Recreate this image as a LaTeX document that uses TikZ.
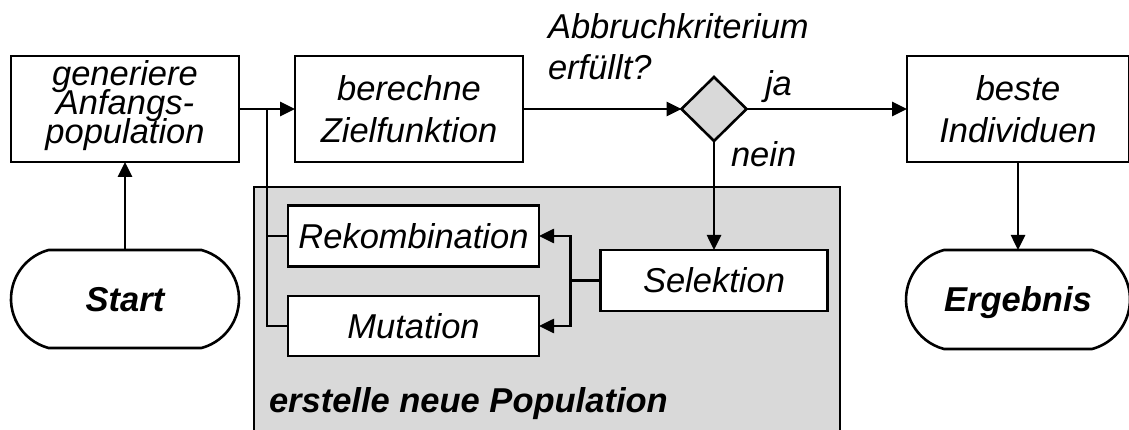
\documentclass[tikz,border=0pt]{standalone}
\usepackage{fontspec}
\setmainfont{Liberation Sans}
\usetikzlibrary{arrows.meta,shapes.geometric,shapes.misc,calc}
\definecolor{panelgrey}{RGB}{217,217,217}
\newcommand\tightls{\lineskiplimit-100pt\relax}
\begin{document}
\begin{tikzpicture}[x=1pt,y=-1pt,
  every node/.style={inner sep=0pt, outer sep=0pt},
  ln/.style={line width=2.6pt},
  arr/.style={ln, -{Triangle[length=15pt,width=14pt]}},
  procbox/.style={draw, ln, fill=white, rectangle, align=center,
    font={\fontsize{34.5}{41.5}\selectfont\tightls\itshape}},
  onebox/.style={procbox, text height=24.7pt, text depth=0pt},
  term/.style={draw, ln, fill=white, rounded rectangle, rounded rectangle arc length=150,
    font={\fontsize{34.5}{41.5}\selectfont\bfseries\itshape}, text height=24.7pt, text depth=0pt},
  lbl/.style={font={\fontsize{34.5}{41}\selectfont\itshape}, align=left},
]
\useasboundingbox (0,0) rectangle (1129,430);
\clip (0,0) rectangle (1129,430);

% grey panel
\node[draw, ln, fill=panelgrey, minimum width=586pt, minimum height=260pt, anchor=north west] (panel) at (254,187) {};

% boxes
\node[procbox, minimum width=228pt, minimum height=106pt, text depth=13.7pt,
  font={\fontsize{34.5}{29}\selectfont\tightls\itshape}] (gen) at (125,109) {generiere\\Anfangs-\\population};
\node[procbox, minimum width=228pt, minimum height=106pt] (ber) at (409,109) {berechne\\Zielfunktion};
\node[procbox, minimum width=222pt, minimum height=106pt] (best) at (1018,109) {beste\\Individuen};
\node[diamond, draw, ln, fill=panelgrey, minimum width=65pt, minimum height=64pt] (dec) at (714,109) {};
\node[term, minimum width=228pt, minimum height=98pt] (start) at (125,299) {Start};
\node[term, minimum width=224pt, minimum height=99pt] (erg) at (1018,299.5) {Ergebnis};
\node[onebox, minimum width=251pt, minimum height=61pt] (rek) at (413.5,236) {Rekombination};
\node[onebox, minimum width=251pt, minimum height=60pt] (mut) at (413.5,326) {Mutation};
\node[onebox, minimum width=227pt, minimum height=61pt] (sel) at (714,280.5) {Selektion};

% labels
\node[lbl, anchor=north west] (crit) at (548,14) {Abbruchkriterium\\erfüllt?};
\node[lbl, anchor=base west] (ja) at (765,96) {ja};
\node[lbl, anchor=base west] (nein) at (731,167) {nein};
\node[font={\fontsize{34.5}{41}\selectfont\bfseries\itshape}, anchor=base west] (title) at (269,412) {erstelle neue Population};

% connectors
\coordinate (j1) at ($(gen.east)!0.5!(ber.west)$);
\coordinate (j2) at ($(sel.west)+(-30,0)$);
\draw[arr] (start.north) -- (gen.south);
\draw[arr] (gen.east) -- (ber.west);
\draw[ln] (j1) |- (rek.west);
\draw[ln] (j1) |- (mut.west);
\draw[arr] (ber.east) -- (dec.west);
\draw[arr] (dec.east) -- (best.west);
\draw[arr] (dec.south) -- (sel.north);
\draw[ln] (sel.west) -- (j2);
\draw[arr] (j2) |- (rek.east);
\draw[arr] (j2) |- (mut.east);
\draw[arr] (best.south) -- (erg.north);
\end{tikzpicture}
\end{document}
